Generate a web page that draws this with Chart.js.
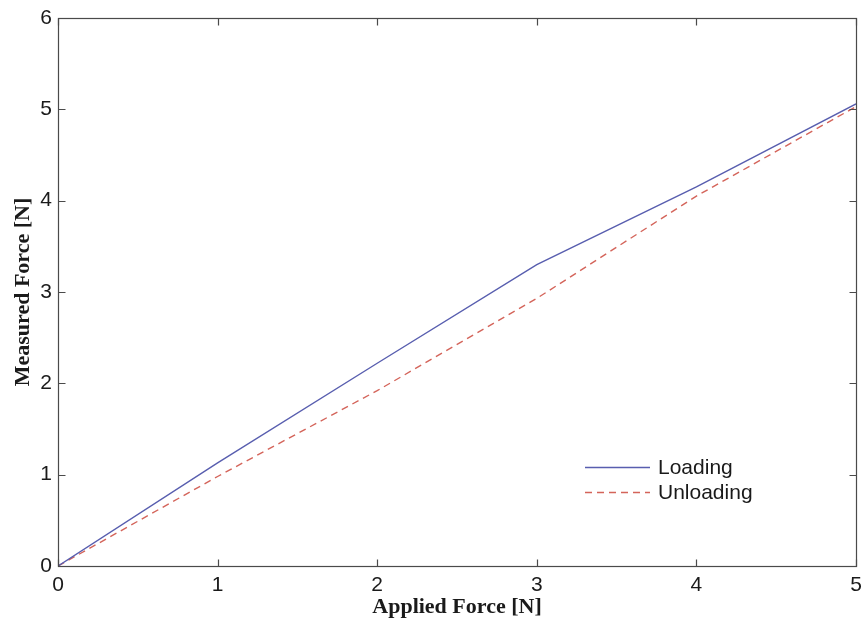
<!DOCTYPE html>
<html>
<head>
<meta charset="utf-8">
<title>Measured vs applied force</title>
<script src="https://cdn.jsdelivr.net/npm/chart.js@4.4.1/dist/chart.umd.min.js"></script>
<style>
  html, body { margin: 0; padding: 0; background: #fff; }
</style>
</head>
<body>
<canvas id="force" width="864" height="623"></canvas>
<script>
// applied force steps and the sensor readings going up and coming back down
var appliedForce = [0, 1, 2, 3, 4, 5];
var loading      = [0, 1.13, 2.22, 3.30, 4.15, 5.06];
var unloading    = [0, 0.98, 1.92, 2.93, 4.05, 5.03];

var axisColor = '#4a4a4a';
var tickLen = 7;
var sansFont = '"Liberation Sans", Arial, sans-serif';
var serifFont = '"Liberation Serif", "Times New Roman", serif';

function toPoints(ys) {
    return appliedForce.map(function(x, i) { return { x: x, y: ys[i] }; });
}

// matlab-ish box: full frame, ticks pointing inward, legend inside the axes
var boxPlugin = {
    id: 'boxPlugin',
    afterDatasetsDraw: function(chart) {
        var ctx = chart.ctx,
            a = chart.chartArea,
            xs = chart.scales.x,
            ys = chart.scales.y;
        var l = Math.round(a.left) + 0.5, r = Math.round(a.right) + 0.5,
            t = Math.round(a.top) + 0.5, b = Math.round(a.bottom) + 0.5;

        ctx.save();
        ctx.strokeStyle = axisColor;
        ctx.lineWidth = 1.2;
        ctx.strokeRect(l, t, r - l, b - t);

        ctx.beginPath();
        xs.ticks.forEach(function(tk) {
            var px = Math.round(xs.getPixelForValue(tk.value)) + 0.5;
            ctx.moveTo(px, b); ctx.lineTo(px, b - tickLen);
            ctx.moveTo(px, t); ctx.lineTo(px, t + tickLen);
        });
        ys.ticks.forEach(function(tk) {
            var py = Math.round(ys.getPixelForValue(tk.value)) + 0.5;
            ctx.moveTo(l, py); ctx.lineTo(l + tickLen, py);
            ctx.moveTo(r, py); ctx.lineTo(r - tickLen, py);
        });
        ctx.stroke();

        // legend
        var lx = 585, ly = 467, rowH = 25, lineW = 65;
        ctx.font = '21px ' + sansFont;
        ctx.textBaseline = 'middle';
        ctx.textAlign = 'left';
        chart.data.datasets.forEach(function(ds, i) {
            var y = ly + i * rowH + 0.5;
            ctx.strokeStyle = ds.borderColor;
            ctx.lineWidth = ds.borderWidth;
            ctx.setLineDash(ds.borderDash || []);
            ctx.beginPath();
            ctx.moveTo(lx, y);
            ctx.lineTo(lx + lineW, y);
            ctx.stroke();
            ctx.setLineDash([]);
            ctx.fillStyle = '#1a1a1a';
            ctx.fillText(ds.label, lx + lineW + 8, y + 1);
        });
        ctx.restore();
    }
};

var ctx = document.getElementById('force').getContext('2d');

new Chart(ctx, {
    type: 'line',
    data: {
        datasets: [
            {
                label: 'Loading',
                data: toPoints(loading),
                borderColor: 'rgb(88, 94, 175)',
                borderWidth: 1.4,
                pointRadius: 0,
                tension: 0,
                fill: false
            },
            {
                label: 'Unloading',
                data: toPoints(unloading),
                borderColor: 'rgb(212, 100, 90)',
                borderWidth: 1.4,
                borderDash: [7, 5],
                pointRadius: 0,
                tension: 0,
                fill: false
            }
        ]
    },
    options: {
        responsive: false,
        animation: false,
        devicePixelRatio: 1,
        layout: { padding: { top: 18, right: 8, left: 0, bottom: 0 } },
        plugins: {
            legend: { display: false },
            tooltip: { enabled: false }
        },
        scales: {
            x: {
                type: 'linear',
                min: 0,
                max: 5,
                grid: { display: false, drawTicks: false },
                border: { display: false },
                ticks: {
                    stepSize: 1,
                    padding: 7,
                    color: '#1a1a1a',
                    font: { family: sansFont, size: 21 }
                },
                title: {
                    display: true,
                    text: 'Applied Force [N]',
                    color: '#1a1a1a',
                    padding: { top: 4, bottom: 2 },
                    font: { family: serifFont, size: 22, weight: 'bold' }
                },
                afterFit: function(scale) {
                    scale.height = 57;
                    // let the end labels hang past the plot edge
                    scale.paddingLeft = 0;
                    scale.paddingRight = 0;
                }
            },
            y: {
                min: 0,
                max: 6,
                grid: { display: false, drawTicks: false },
                border: { display: false },
                ticks: {
                    stepSize: 1,
                    padding: 6,
                    color: '#1a1a1a',
                    font: { family: sansFont, size: 21 }
                },
                title: {
                    display: true,
                    text: 'Measured Force [N]',
                    color: '#1a1a1a',
                    padding: { top: 10, bottom: 10 },
                    font: { family: serifFont, size: 22, weight: 'bold' }
                },
                afterFit: function(scale) {
                    scale.width = 58;
                    scale.paddingTop = 0;
                    scale.paddingBottom = 0;
                }
            }
        }
    },
    plugins: [boxPlugin]
});
</script>
</body>
</html>
